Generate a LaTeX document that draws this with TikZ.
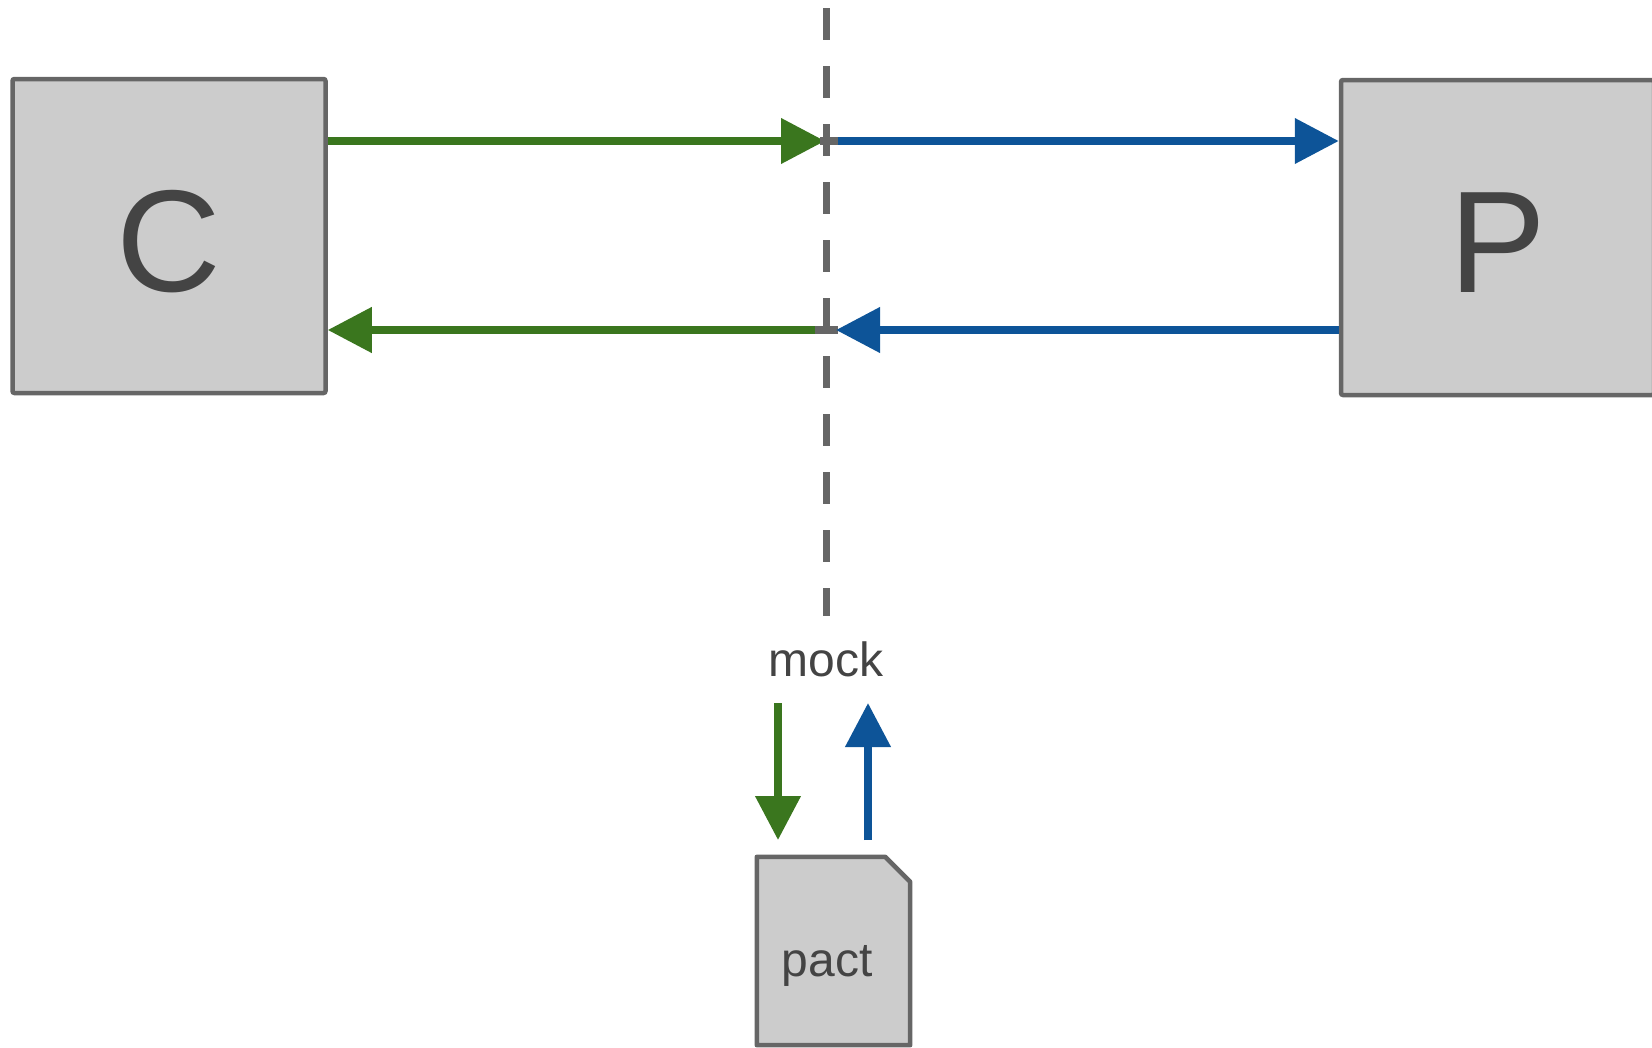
\documentclass[tikz,border=0pt]{standalone}
\usepackage{fontspec}
\setmainfont{Liberation Sans}
\usetikzlibrary{arrows.meta}
\definecolor{boxfill}{HTML}{CCCCCC}
\definecolor{boxline}{HTML}{666666}
\definecolor{txt}{HTML}{444444}
\definecolor{grn}{HTML}{3A761E}
\definecolor{blu}{HTML}{0D5498}
\begin{document}
\begin{tikzpicture}[x=1pt,y=-1pt,
  box/.style={draw=boxline,fill=boxfill,line width=4.5pt,rounded corners=2pt,
    minimum width=313pt,minimum height=314pt,inner sep=0pt,text=txt,
    font=\fontsize{145}{145}\selectfont},
  garrow/.style={draw=grn,line width=7.5pt,-{Triangle[length=44pt,width=44pt]}},
  barrow/.style={draw=blu,line width=7.5pt,-{Triangle[length=44pt,width=44pt]}},
  stub/.style={draw=boxline,line width=7.5pt},
  dashline/.style={draw=boxline,line width=7pt,dash pattern=on 32pt off 26pt},
  label/.style={text=txt,font=\fontsize{48}{48}\selectfont,inner sep=0pt,anchor=base}
]
\useasboundingbox (0,0) rectangle (1652,1047);

% boxes
\node[box] (C) at (169,236) {\raisebox{-5pt}[\height][0pt]{C}};
\node[box,minimum height=315pt] (P) at (1497.5,237.5) {\raisebox{-5pt}[\height][0pt]{P}};

% dashed mock line
\coordinate (dtop) at (826,8.4);
\coordinate (dbot) at (826,616);
\draw[dashline] (dtop) -- (dbot);

% crossing points
\coordinate (mt) at (826,141);
\coordinate (mb) at (826,330);

% top connectors
\draw[garrow] (C.east |- mt) -- ([xshift=-1pt]mt);
\draw[stub] ([xshift=-6pt]mt) -- ([xshift=12pt]mt);
\draw[barrow] ([xshift=12pt]mt) -- (P.west |- mt);

% bottom connectors
\draw[stub] ([xshift=-11pt]mb) -- ([xshift=12pt]mb);
\draw[garrow] ([xshift=-11pt]mb) -- (C.east |- mb);
\draw[barrow] (P.west |- mb) -- ([xshift=10pt]mb);

% mock label
\node[label] (mock) at (826,676) {mock};

% pact document
\node[minimum width=153pt,minimum height=188pt,inner sep=0pt] (pact) at (833.5,951) {};
\draw[draw=boxline,fill=boxfill,line width=4.5pt,line join=round]
  (pact.south west) -- (pact.north west) -- ([xshift=-25pt]pact.north east)
  -- ([yshift=-25pt]pact.north east) -- (pact.south east) -- cycle;
\node[label] (pactlabel) at (827,976) {pact};

% vertical arrows
\coordinate (g1) at (778,703);
\coordinate (g2) at (778,840);
\draw[garrow] (g1) -- (g2);
\coordinate (b1) at (868,840);
\coordinate (b2) at (868,703);
\draw[barrow] (b1) -- (b2);
\end{tikzpicture}
\end{document}
